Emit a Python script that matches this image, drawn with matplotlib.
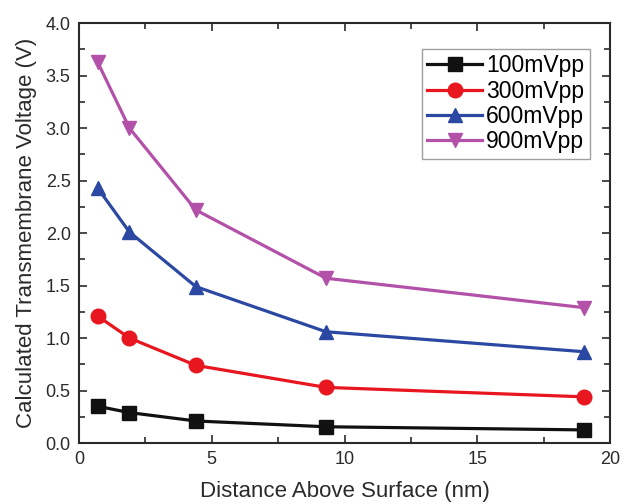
import matplotlib
matplotlib.use("Agg")
import matplotlib.pyplot as plt
from matplotlib.ticker import MultipleLocator

plt.rcParams['font.family'] = ['Liberation Sans', 'DejaVu Sans']

distance = [0.7, 1.9, 4.4, 9.3, 19.0]
v100 = [0.35, 0.29, 0.21, 0.155, 0.125]
v300 = [1.21, 1.00, 0.74, 0.53, 0.44]
v600 = [2.43, 2.01, 1.49, 1.06, 0.87]
v900 = [3.63, 3.00, 2.22, 1.57, 1.29]
labels = ["100mVpp", "300mVpp", "600mVpp", "900mVpp"]
colors = ["#111111", "#e8161e", "#2b48a2", "#b350a8"]
markers = ["s", "o", "^", "v"]

fig = plt.figure(figsize=(6.22, 5.04), dpi=100)
ax = fig.add_axes([0.127, 0.121, 0.854, 0.833])

for y, lab, c, m in zip([v100, v300, v600, v900], labels, colors, markers):
    ax.plot(distance, y, color=c, marker=m, markersize=10.5, linewidth=2.3, label=lab)

ax.set_xlim(0, 20)
ax.set_ylim(0, 4.0)
ax.xaxis.set_major_locator(MultipleLocator(5))
ax.xaxis.set_minor_locator(MultipleLocator(2.5))
ax.yaxis.set_major_locator(MultipleLocator(0.5))
ax.yaxis.set_minor_locator(MultipleLocator(0.25))
ax.yaxis.set_major_formatter(matplotlib.ticker.FormatStrFormatter('%.1f'))
ax.tick_params(which='both', direction='in', top=True, right=True,
               width=1.2, colors='#2a2a2a', labelcolor='#2a2a2a')
ax.tick_params(which='major', length=6, labelsize=13, pad=6)
ax.tick_params(which='minor', length=4)
for s in ax.spines.values():
    s.set_linewidth(1.5)
    s.set_color('#2a2a2a')

ax.set_xlabel("Distance Above Surface (nm)", fontsize=16, color='#2a2a2a', labelpad=9)
ax.set_ylabel("Calculated Transmembrane Voltage (V)", fontsize=16, color='#2a2a2a', labelpad=6)

leg = ax.legend(loc='upper right', bbox_to_anchor=(0.97, 0.95), fontsize=16.5,
                frameon=True, fancybox=False, edgecolor='#888888',
                borderpad=0.25, labelspacing=0.1, handlelength=2.4, handletextpad=0.15,
                borderaxespad=0.2)
leg.get_frame().set_linewidth(1.0)

fig.savefig("out.png", dpi=100)
